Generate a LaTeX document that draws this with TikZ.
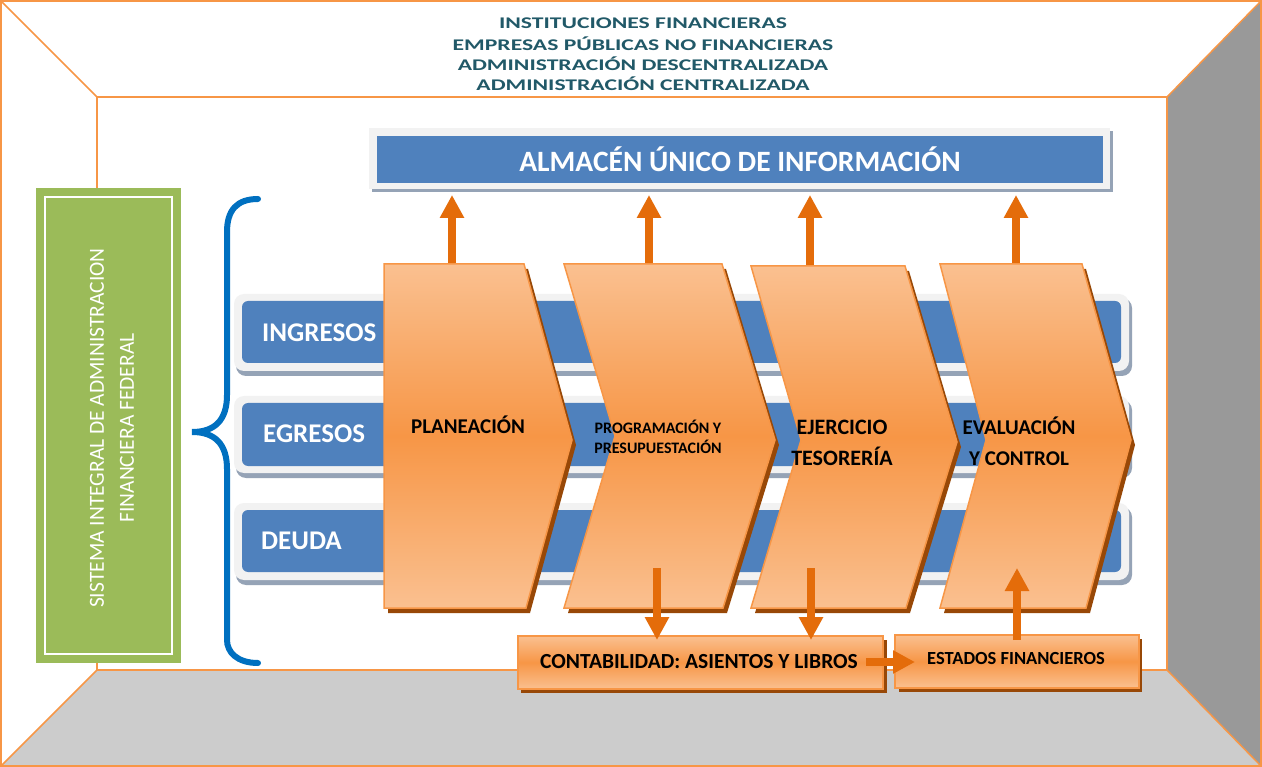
\documentclass[tikz,border=0pt]{standalone}
\usepackage{fontspec}
\setmainfont{Carlito}
\usepackage{graphicx}
\usetikzlibrary{arrows.meta}
\definecolor{orng}{HTML}{F79646}
\definecolor{orngl}{HTML}{FAC090}
\definecolor{arr}{HTML}{E46C0A}
\definecolor{shd}{HTML}{984807}
\definecolor{blu}{HTML}{4F81BD}
\definecolor{frm}{HTML}{F2F2F2}
\definecolor{frmsh}{HTML}{95A3B6}
\definecolor{grn}{HTML}{9BBB59}
\definecolor{brc}{HTML}{0070C0}
\definecolor{ttl}{HTML}{215968}
\definecolor{wallr}{HTML}{999999}
\definecolor{flr}{HTML}{CCCCCC}
\tikzset{
  edge/.style={draw=orng, line width=1.5pt},
  chev/.style={top color=orngl, bottom color=orngl, middle color=orng, draw=orng, line width=1.5pt},
  chevsh/.style={fill=shd},
  ttltext/.style={text=ttl, font=\fontsize{16.3pt}{20pt}\selectfont\bfseries, inner sep=0pt},
  bartext/.style={text=white, font=\fontsize{27pt}{30pt}\selectfont\bfseries, anchor=west, inner sep=0pt},
  chevtext/.style={text=black, font=\fontsize{21pt}{31pt}\selectfont\bfseries, align=center, inner sep=0pt},
  arrowline/.style={draw=arr, line width=8pt, -{Triangle[length=23pt,width=23pt]}},
  bluebar/.style={fill=blu, rounded corners=6pt},
  barframe/.style={fill=frm, rounded corners=10pt},
  barshadow/.style={fill=frmsh, rounded corners=10pt},
}
\begin{document}
\begin{tikzpicture}[x=1pt,y=-1pt]
\useasboundingbox (0,0) rectangle (1262,767);
% room
\fill[white] (0,0) rectangle (1262,767);
\fill[wallr] (1167,97) -- (1261,1) -- (1261,766) -- (1167,670) -- cycle;
\fill[flr] (97,670) -- (1167,670) -- (1261,766) -- (1,766) -- cycle;
\draw[edge] (1,1) rectangle (1261,766);
\draw[edge] (97,97) rectangle (1167,670);
\draw[edge] (1,1) -- (97,97);
\draw[edge] (1261,1) -- (1167,97);
\draw[edge] (1261,766) -- (1167,670);
\draw[edge] (1,766) -- (97,670);
% title
\node[ttltext] (t1) at (643,23) {\scalebox{1.45}[1]{INSTITUCIONES FINANCIERAS}};
\node[ttltext] (t2) at (643,44) {\scalebox{1.45}[1]{EMPRESAS PÚBLICAS NO FINANCIERAS}};
\node[ttltext] (t3) at (643,64) {\scalebox{1.45}[1]{ADMINISTRACIÓN DESCENTRALIZADA}};
\node[ttltext] (t4) at (643,84) {\scalebox{1.45}[1]{ADMINISTRACIÓN CENTRALIZADA}};
% almacen
\fill[frmsh] (372,131) rectangle (1113,192);
\fill[frm] (369,128) rectangle (1110,189);
\node[fill=blu, minimum width=726pt, minimum height=47pt, inner sep=0pt, text=white,
      font=\fontsize{29.5pt}{32pt}\selectfont\bfseries] (alm) at (740,159.5) {ALMACÉN ÚNICO DE INFORMACIÓN};
% green box
\fill[grn] (36,188) rectangle (181,663);
\draw[white, line width=2.5pt] (45,197) rectangle (172,654);
\node[rotate=90, text=white, align=center, font=\fontsize{21.5pt}{30pt}\selectfont, inner sep=0pt] (sis) at (112,428)
  {SISTEMA INTEGRAL DE ADMINISTRACION\\FINANCIERA FEDERAL};
% brace
\draw[brc, line width=6pt, line cap=round] (258,199) .. controls (237,199) and (227,210) .. (227,232) -- (227,395)
  .. controls (227,420) and (215,432) .. (192,432) .. controls (215,432) and (227,444) .. (227,469)
  -- (227,640) .. controls (227,652) and (237,663) .. (258,663);
% bars
\fill[barshadow] (236,298) rectangle (1132,376);
\fill[barframe] (234,294) rectangle (1129,371);
\fill[bluebar] (242,301) rectangle (1121,363);
\fill[barshadow] (236,400) rectangle (1132,478);
\fill[barframe] (234,396) rectangle (1129,473);
\fill[bluebar] (242,403) rectangle (1121,466);
\fill[barshadow] (236,507) rectangle (1132,585);
\fill[barframe] (234,503) rectangle (1129,580);
\fill[bluebar] (242,510) rectangle (1121,572);
\node[bartext] (ing) at (262,333) {INGRESOS};
\node[bartext] (egr) at (263,434) {EGRESOS};
\node[bartext] (deu) at (261,541) {DEUDA};
% up arrows to almacen
\coordinate (u1s) at (452,266); \coordinate (u1e) at (452,195);
\coordinate (u2s) at (649,266); \coordinate (u2e) at (649,195);
\coordinate (u3s) at (810,268); \coordinate (u3e) at (810,195);
\coordinate (u4s) at (1016,266); \coordinate (u4e) at (1016,195);
\draw[arrowline] (u1s) -- (u1e);
\draw[arrowline] (u2s) -- (u2e);
\draw[arrowline] (u3s) -- (u3e);
\draw[arrowline] (u4s) -- (u4e);
% chevrons
\fill[chevsh, shift={(4,5)}] (384,264) -- (524,264) -- (572,440) -- (526,608) -- (384,608) -- cycle;
\path[chev] (384,264) -- (524,264) -- (572,440) -- (526,608) -- (384,608) -- cycle;
\fill[chevsh, shift={(4,5)}] (564,264) -- (722,264) -- (775,440) -- (723,608) -- (564,608) -- (615,436) -- cycle;
\path[chev] (564,264) -- (722,264) -- (775,440) -- (723,608) -- (564,608) -- (615,436) -- cycle;
\fill[chevsh, shift={(4,5)}] (751,266) -- (905,266) -- (957,442) -- (906,608) -- (751,608) -- (801,440) -- cycle;
\path[chev] (751,266) -- (905,266) -- (957,442) -- (906,608) -- (751,608) -- (801,440) -- cycle;
\fill[chevsh, shift={(4,5)}] (940,264) -- (1082,264) -- (1131,440) -- (1086,608) -- (940,608) -- (986,440) -- cycle;
\path[chev] (940,264) -- (1082,264) -- (1131,440) -- (1086,608) -- (940,608) -- (986,440) -- cycle;
\node[chevtext] (pla) at (468,425) {PLANEACIÓN};
\node[chevtext, font=\fontsize{16pt}{20pt}\selectfont\bfseries] (pro) at (658,437) {PROGRAMACIÓN Y\\PRESUPUESTACIÓN};
\node[chevtext, font=\fontsize{22pt}{31pt}\selectfont\bfseries] (eje) at (842,443) {EJERCICIO\\TESORERÍA};
\node[chevtext] (eva) at (1019,441) {EVALUACIÓN\\Y CONTROL};
% bottom boxes
\fill[shd] (521,640) rectangle (887,693);
\path[chev] (518,636) rectangle (883,689);
\fill[shd] (899,639) rectangle (1142,692);
\path[chev] (895,635) rectangle (1139,688);
\node[text=black, font=\fontsize{21.5pt}{24pt}\selectfont\bfseries, inner sep=0pt] (con) at (699,662) {CONTABILIDAD: ASIENTOS Y LIBROS};
\node[text=black, font=\fontsize{18.5pt}{20pt}\selectfont\bfseries, inner sep=0pt] (est) at (1016,658) {ESTADOS FINANCIEROS};
% lower arrows
\coordinate (d1s) at (657,568); \coordinate (d1e) at (657,640);
\coordinate (d2s) at (811,568); \coordinate (d2e) at (811,640);
\coordinate (rs) at (866,662); \coordinate (re) at (915,662);
\coordinate (vs) at (1017,640); \coordinate (ve) at (1017,568);
\draw[arrowline] (d1s) -- (d1e);
\draw[arrowline] (d2s) -- (d2e);
\draw[arrowline, -{Triangle[length=22pt,width=22pt]}] (rs) -- (re);
\draw[arrowline] (vs) -- (ve);
\end{tikzpicture}
\end{document}
